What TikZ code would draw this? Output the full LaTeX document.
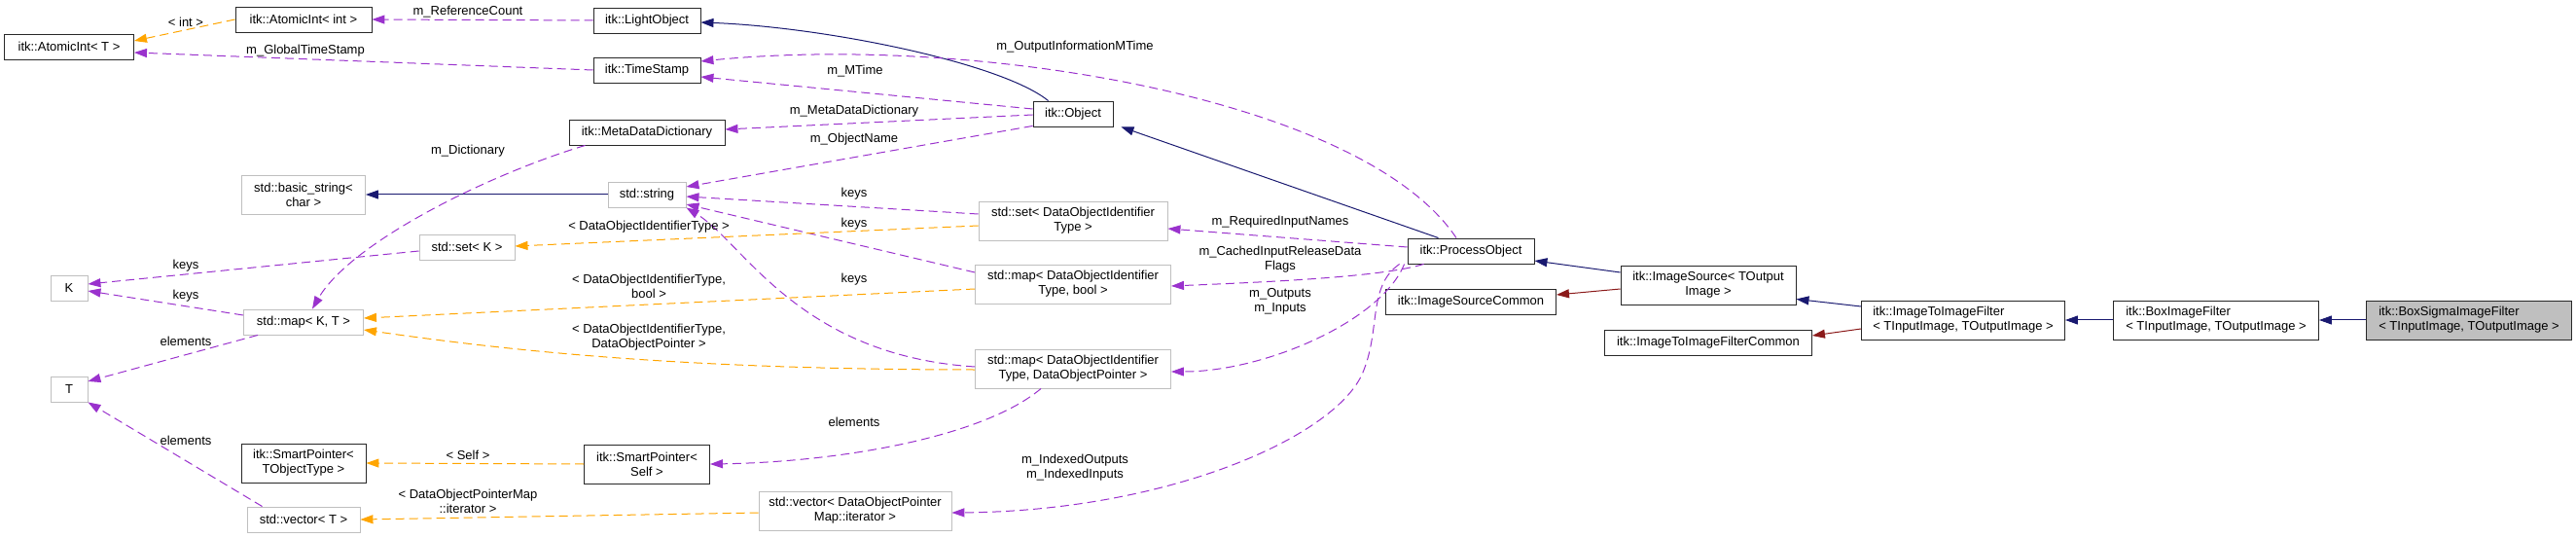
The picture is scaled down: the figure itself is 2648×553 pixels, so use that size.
\documentclass[tikz,border=0pt]{standalone}
\usepackage{fontspec}
\setmainfont{Liberation Sans}
\usepackage{xcolor}
\usetikzlibrary{arrows.meta,calc}

\definecolor{navyline}{RGB}{25,25,112}
\definecolor{usepurple}{RGB}{154,50,205}
\definecolor{tmplorange}{RGB}{255,165,0}
\definecolor{privred}{RGB}{139,26,26}
\definecolor{extgrey}{RGB}{191,191,191}
\definecolor{boxline}{RGB}{40,40,40}

\begin{document}
\begin{tikzpicture}[
        x=1pt, y=-1pt,
        every node/.style={font=\fontsize{13}{15}\selectfont},
        cls/.style={draw=boxline, line width=0.9pt, inner sep=0pt, minimum height=26pt, align=center},
        ext/.style={cls, draw=extgrey},
        twoline/.style={minimum height=40pt},
        inh/.style={-{Triangle[length=13pt, width=9pt]}, navyline, line width=1pt},
        priv/.style={inh, privred},
        member/.style={-{Triangle[length=13pt, width=9pt]}, usepurple, dash pattern=on 9pt off 5pt, line width=1pt},
        tmpl/.style={member, tmplorange},
        lbl/.style={align=center, inner sep=0pt},
    ]
    \useasboundingbox (0,0) rectangle (2648,553);

    % Left column (used types)
    \node[cls, minimum width=133pt] (atomT) at (71,48) {itk::AtomicInt< T >};
    \node[ext, minimum width=38pt] (K) at (71,296) {K};
    \node[ext, minimum width=38pt] (T) at (71,400) {T};

    % Second column
    \node[cls, minimum width=140pt] (atomInt) at (312,20) {itk::AtomicInt< int >};
    \node[ext, twoline, minimum width=127pt] (bstr) at (312,200) {std::basic\_string<\\char >};
    \node[ext, minimum width=123pt] (mapKT) at (312,331) {std::map< K, T >};
    \node[cls, twoline, minimum width=128pt] (spTO) at (312,476) {itk::SmartPointer<\\TObjectType >};
    \node[ext, minimum width=116pt] (vecT) at (312,534) {std::vector< T >};
    \node[ext, minimum width=98pt] (setK) at (480,254) {std::set< K >};

    % Third column
    \node[cls, minimum width=110pt] (light) at (665,21) {itk::LightObject};
    \node[cls, minimum width=110pt] (stamp) at (665,72) {itk::TimeStamp};
    \node[cls, minimum width=160pt] (mdd) at (665,136) {itk::MetaDataDictionary};
    \node[ext, minimum width=80pt] (str) at (665,200) {std::string};
    \node[cls, twoline, minimum width=129pt] (spSelf) at (665,477) {itk::SmartPointer<\\Self >};
    \node[ext, twoline, minimum width=198pt] (vecIt) at (879,525) {std::vector< DataObjectPointer\\Map::iterator >};

    % Fourth column
    \node[cls, minimum width=82pt] (object) at (1103,117) {itk::Object};
    \node[ext, twoline, minimum width=194pt] (setDOI) at (1103,227) {std::set< DataObjectIdentifier\\Type >};
    \node[ext, twoline, minimum width=201pt] (mapBool) at (1103,292) {std::map< DataObjectIdentifier\\Type, bool >};
    \node[ext, twoline, minimum width=201pt] (mapDOP) at (1103,379) {std::map< DataObjectIdentifier\\Type, DataObjectPointer >};

    % Filter chain
    \node[cls, minimum width=130pt] (process) at (1512,258) {itk::ProcessObject};
    \node[cls, minimum width=175pt] (srcCommon) at (1512,310) {itk::ImageSourceCommon};
    \node[cls, twoline, minimum width=180pt] (imgSource) at (1756,293) {itk::ImageSource< TOutput\\Image >};
    \node[cls, minimum width=213pt] (i2iCommon) at (1756,352) {itk::ImageToImageFilterCommon};
    \node[cls, twoline, minimum width=209pt, align=left] (i2i) at (2018,329) {itk::ImageToImageFilter\\< TInputImage, TOutputImage >};
    \node[cls, twoline, minimum width=211pt, align=left] (box) at (2278,329) {itk::BoxImageFilter\\< TInputImage, TOutputImage >};
    \node[cls, twoline, minimum width=211pt, align=left, fill=extgrey] (boxSigma) at (2538,329) {itk::BoxSigmaImageFilter\\< TInputImage, TOutputImage >};

    % Inheritance
    \draw[inh] (boxSigma.west) -- (box.east);
    \draw[inh] (box.west) -- (i2i.east);
    \draw[inh] ($(i2i.west)+(0,-14)$) -- ($(imgSource.south east)+(0,-6)$);
    \draw[priv] ($(i2i.west)+(0,9)$) -- ($(i2iCommon.east)+(0,-7)$);
    \draw[inh] ($(imgSource.west)+(0,-13)$) -- ($(process.east)+(0,10)$);
    \draw[priv] ($(imgSource.west)+(0,4)$) -- ($(srcCommon.east)+(0,-7)$);
    \draw[inh] ($(process.north west)+(32,0)$) -- ($(object.south east)+(8,0)$);
    \draw[inh] ($(object.north west)+(16,0)$) .. controls (1030,65) and (850,28) .. ($(light.east)+(0,2)$);
    \draw[inh] (str.west) -- (bstr.east);

    % Members of LightObject, TimeStamp, Object
    \draw[member] (light.west) -- (atomInt.east);
    \node[lbl] (lRefCount) at (481,12) {m\_ReferenceCount};
    \draw[member] (stamp.west) -- ($(atomT.east)+(0,6)$);
    \node[lbl] (lGlobal) at (314,52) {m\_GlobalTimeStamp};
    \draw[tmpl] (atomInt.west) -- ($(atomT.east)+(0,-6)$);
    \node[lbl] (lInt) at (191,23) {< int >};
    \draw[member] ($(object.west)+(0,-5)$) -- ($(stamp.east)+(0,7)$);
    \node[lbl] (lMTime) at (879,73) {m\_MTime};
    \draw[member] ($(object.west)+(0,1)$) -- ($(mdd.east)+(0,-3)$);
    \node[lbl] (lMeta) at (878,114) {m\_MetaDataDictionary};
    \draw[member] ($(object.south west)+(0,-1)$) -- ($(str.east)+(0,-8)$);
    \node[lbl] (lName) at (878,143) {m\_ObjectName};
    \draw[member] ($(mdd.south west)+(17,0)$) .. controls (500,180) and (360,250) .. ($(mapKT.north)+(9,0)$);
    \node[lbl] (lDict) at (481,155) {m\_Dictionary};

    % keys and elements
    \draw[member] ($(setDOI.west)+(0,-7)$) -- ($(str.east)+(0,2)$);
    \node[lbl] (lKeys1) at (878,199) {keys};
    \draw[member] ($(mapBool.west)+(0,-12)$) -- ($(str.east)+(0,10)$);
    \node[lbl] (lKeys2) at (878,230) {keys};
    \draw[member] ($(mapDOP.west)+(0,-2)$) .. controls (820,365) and (765,250) .. (str.south east);
    \node[lbl] (lKeys3) at (878,287) {keys};
    \draw[member] ($(setK.west)+(0,4)$) -- ($(K.east)+(0,-4)$);
    \node[lbl] (lKeys4) at (191,273) {keys};
    \draw[member] ($(mapKT.west)+(0,-7)$) -- ($(K.east)+(0,3)$);
    \node[lbl] (lKeys5) at (191,304) {keys};
    \draw[member] ($(mapKT.south west)+(15,0)$) -- ($(T.east)+(0,-8)$);
    \node[lbl] (lElem1) at (191,351) {elements};
    \draw[member] ($(vecT.north west)+(16,0)$) -- (T.south east);
    \node[lbl] (lElem2) at (191,453) {elements};
    \draw[member] ($(mapDOP.south west)+(68,0)$) .. controls (1010,450) and (860,475) .. (spSelf.east);
    \node[lbl] (lElem3) at (878,434) {elements};

    % Template instances
    \draw[tmpl] ($(setDOI.west)+(0,5)$) -- ($(setK.east)+(0,-1)$);
    \node[lbl] (lSetArg) at (667,233) {< DataObjectIdentifierType >};
    \draw[tmpl] ($(mapBool.west)+(0,5)$) -- ($(mapKT.east)+(0,-4)$);
    \node[lbl] (lBoolArg) at (667,294) {< DataObjectIdentifierType,\\bool >};
    \draw[tmpl] ($(mapDOP.west)+(0,1)$) .. controls (700,380) and (520,360) .. ($(mapKT.east)+(0,8)$);
    \node[lbl] (lPtrArg) at (667,347) {< DataObjectIdentifierType,\\DataObjectPointer >};
    \draw[tmpl] (spSelf.west) -- (spTO.east);
    \node[lbl] (lSelf) at (481,468) {< Self >};
    \draw[tmpl] ($(vecIt.west)+(0,2)$) -- (vecT.east);
    \node[lbl] (lIter) at (481,515) {< DataObjectPointerMap\\::iterator >};

    % Members of ProcessObject
    \draw[member] ($(process.north)+(-15,0)$) .. controls (1400,100) and (1000,35) .. ($(stamp.east)+(0,-9)$);
    \node[lbl] (lOutInfo) at (1105,48) {m\_OutputInformationMTime};
    \draw[member] ($(process.west)+(0,-4)$) -- ($(setDOI.east)+(0,8)$);
    \node[lbl] (lReq) at (1316,228) {m\_RequiredInputNames};
    \draw[member] ($(process.south west)+(17,0)$) .. controls (1420,285) and (1300,290) .. ($(mapBool.east)+(0,2)$);
    \node[lbl] (lCached) at (1316,267) {m\_CachedInputReleaseData\\Flags};
    \draw[member] ($(process.south west)+(-3,0)$) .. controls (1420,330) and (1300,382) .. ($(mapDOP.east)+(0,3)$);
    \node[lbl] (lInOut) at (1316,310) {m\_Outputs\\m\_Inputs};
    \draw[member] ($(process.south west)+(-8,0)$) .. controls (1405,295) and (1420,340) .. (1400,385)
        .. controls (1370,450) and (1200,525) .. ($(vecIt.east)+(0,2)$);
    \node[lbl] (lIndexed) at (1105,481) {m\_IndexedOutputs\\m\_IndexedInputs};

\end{tikzpicture}
\end{document}
